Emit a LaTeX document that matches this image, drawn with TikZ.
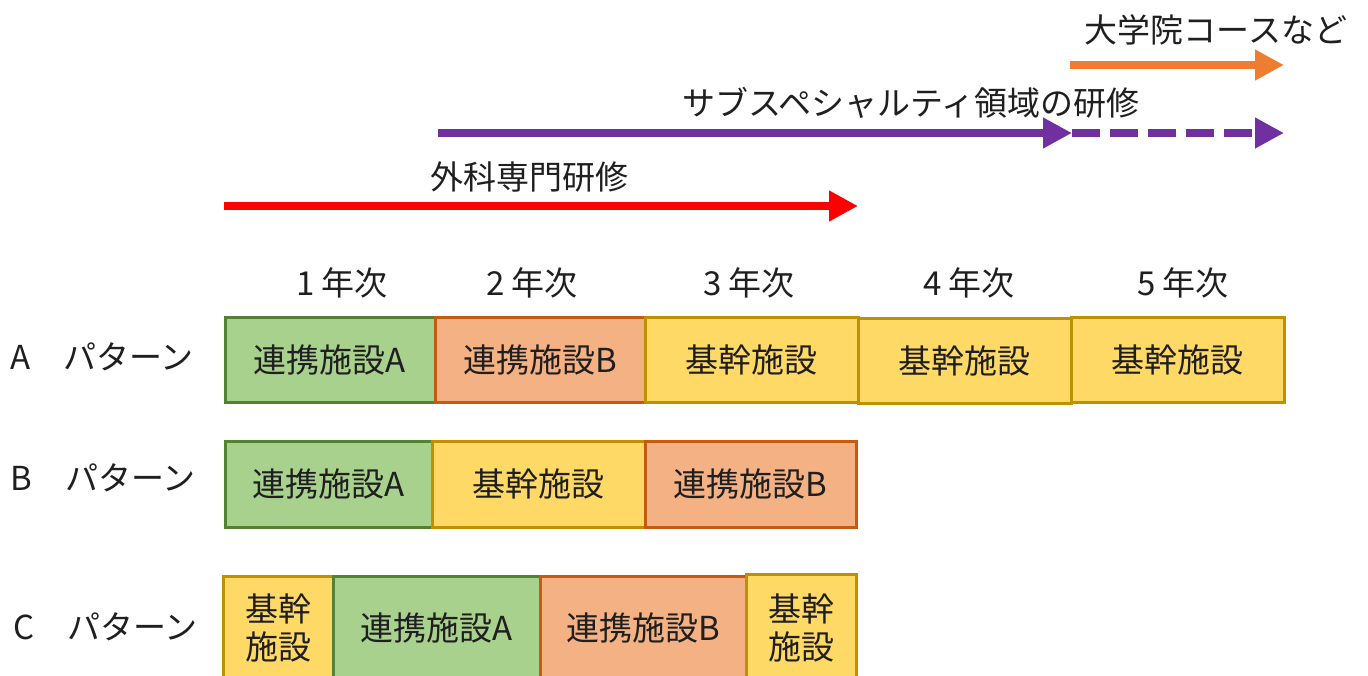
\documentclass[tikz,border=0pt]{standalone}
\usepackage{fontspec}
\setmainfont{Noto Sans CJK JP}
\usepackage{tikz}
\usetikzlibrary{positioning,arrows.meta,calc}

\definecolor{kikanfill}{HTML}{FFD966}
\definecolor{kikandraw}{HTML}{BF9000}
\definecolor{renAfill}{HTML}{A9D18E}
\definecolor{renAdraw}{HTML}{548235}
\definecolor{renBfill}{HTML}{F4B183}
\definecolor{renBdraw}{HTML}{C55A11}
\definecolor{senmon}{HTML}{FF0000}
\definecolor{subspec}{HTML}{7030A0}
\definecolor{daigakuin}{HTML}{ED7D31}
\definecolor{moji}{HTML}{1F1F1F}

\tikzset{
  jtext/.style={font=\fontsize{16.5pt}{19pt}\selectfont, text=moji, inner sep=0pt},
  facility/.style={jtext, rectangle, line width=1.5pt, minimum height=42.5pt, align=center},
  kikan/.style={facility, fill=kikanfill, draw=kikandraw},
  renA/.style={facility, fill=renAfill, draw=renAdraw},
  renB/.style={facility, fill=renBfill, draw=renBdraw},
  course/.style={line width=4pt, -{Triangle[length=14.5pt,width=14.5pt]}},
}

\begin{document}
\begin{tikzpicture}[x=0.5pt,y=-0.5pt]
\useasboundingbox (0,0) rectangle (1368,675);
\begin{scope}
\clip (0,0) rectangle (1368,675);

% courses
\node[jtext] (grad label) at (1216,30) {大学院コースなど};
\coordinate (grad start) at (1070,65);
\coordinate (grad end) at (1284,65);
\draw[course, daigakuin] (grad start) -- (grad end);

\node[jtext] (sub label) at (911,103) {サブスペシャルティ領域の研修};
\coordinate (sub start) at (438,133);
\coordinate (sub mid) at (1072,133);
\coordinate (sub end) at (1284,133);
\draw[course, subspec] (sub start) -- (sub mid);
\draw[course, subspec, dash pattern=on 14pt off 5pt] (sub mid) -- (sub end);

\node[jtext] (surg label) at (529,177) {外科専門研修};
\coordinate (surg start) at (224,206);
\coordinate (surg end) at (858,206);
\draw[course, senmon] (surg start) -- (surg end);

% years
\node[jtext] (y1) at (342,283) {1 年次};
\node[jtext] (y2) at (532,283) {2 年次};
\node[jtext] (y3) at (749,283) {3 年次};
\node[jtext] (y4) at (969,283) {4 年次};
\node[jtext] (y5) at (1183,283) {5 年次};

% pattern A
\node[jtext, anchor=west] (pat A) at (10,357) {A　パターン};
\node[renA, minimum width=105pt] (a1) at (330,359.5) {連携施設A};
\node[renB, minimum width=105pt] (a2) at (540,359.5) {連携施設B};
\node[kikan, minimum width=106.5pt] (a3) at (751.5,359.5) {基幹施設};
\node[kikan, minimum width=106.5pt] (a4) at (964.5,360.5) {基幹施設};
\node[kikan, minimum width=106.5pt] (a5) at (1177.5,359.5) {基幹施設};

% pattern B
\node[jtext, anchor=west] (pat B) at (10,478) {B　パターン};
\node[renA, minimum width=103.5pt, minimum height=43pt] (b1) at (328.5,484) {連携施設A};
\node[kikan, minimum width=106.5pt, minimum height=43pt] (b2) at (538.5,484) {基幹施設};
\node[renB, minimum width=105.5pt, minimum height=43pt] (b3) at (750.5,484) {連携施設B};

% pattern C
\node[jtext, anchor=west] (pat C) at (13,627) {C　パターン};
\node[kikan, minimum width=55pt, minimum height=52pt] (c1) at (278,628) {基幹\\施設};
\node[renA, minimum width=103.5pt, minimum height=52pt] (c2) at (436.5,628) {連携施設A};
\node[renB, minimum width=103pt, minimum height=52pt] (c3) at (643,628) {連携施設B};
\node[kikan, minimum width=55pt, minimum height=53pt] (c4) at (801,627.5) {基幹\\施設};
\end{scope}
\end{tikzpicture}
\end{document}
